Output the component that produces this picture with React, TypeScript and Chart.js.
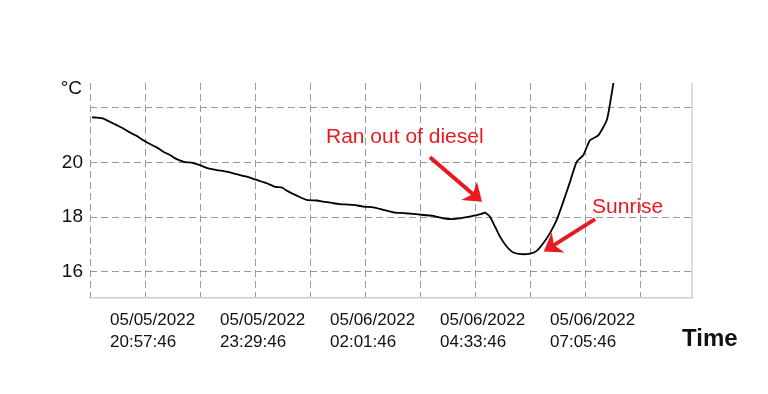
import React, { useEffect, useRef } from "react";
import { Chart, registerables } from "chart.js";

Chart.register(...registerables);

// x values: minutes since 05/05/2022 19:41:46
const minutes = [2.8, 6.9, 18.4, 27.6, 36.9, 46.0, 55.3, 64.5, 73.7, 82.9, 92.2, 101.3, 110.5, 119.8, 131.3, 140.5, 152, 163.5, 175.1, 188.9, 202.7, 216.5, 230.3, 244.2, 255.6, 264.9, 271.8, 285.6, 299.4, 313.3, 322.4, 336.2, 345.5, 363.8, 377.6, 391.5, 405.3, 419.1, 432.9, 446.7, 460.6, 474.4, 488.2, 502.0, 511.3, 520.5, 534.3, 541.0, 545.8, 552.7, 559.6, 566.5, 575.8, 584.9, 596.5, 608.0, 617.2, 626.3, 635.6, 644.9, 654.0, 663.3, 672.5, 681.7, 690.9, 702.4, 714.0, 718.6, 723.1, 725.4];
const temps = [21.65, 21.64, 21.60, 21.48, 21.36, 21.24, 21.09, 20.97, 20.81, 20.67, 20.55, 20.39, 20.27, 20.12, 20.01, 19.99, 19.90, 19.78, 19.72, 19.66, 19.57, 19.48, 19.36, 19.24, 19.11, 19.09, 18.97, 18.79, 18.63, 18.61, 18.57, 18.51, 18.48, 18.45, 18.39, 18.36, 18.27, 18.18, 18.15, 18.12, 18.08, 18.05, 17.96, 17.93, 17.96, 18.00, 18.08, 18.12, 18.17, 18.02, 17.66, 17.29, 16.93, 16.71, 16.65, 16.67, 16.77, 17.05, 17.42, 17.90, 18.57, 19.29, 20.02, 20.27, 20.81, 20.99, 21.54, 22.15, 22.87, 23.2];

const xTickValues = [0, 76, 152, 228, 304, 380, 456, 532, 608, 684, 760];
const xTickLabels: (string | string[])[] = [
  "",
  ["05/05/2022", "20:57:46"],
  "",
  ["05/05/2022", "23:29:46"],
  "",
  ["05/06/2022", "02:01:46"],
  "",
  ["05/06/2022", "04:33:46"],
  "",
  ["05/06/2022", "07:05:46"],
  "",
];
const yTickValues = [16, 18, 20, 22];
const yTickLabels = ["16", "18", "20", ""];

const xMin = 0;
const xMax = 831.85;
const yMin = 15.05;
const yMax = 22.9;

const yUnit = "°C";
const xTitle = "Time";

// annotations in data coordinates (minutes, °C)
const annotationTexts = ["Ran out of diesel", "Sunrise"];
const annotationTextAt = [[326.1, 20.92], [693.7, 18.36]];
const arrowTails = [[469.8, 20.19], [697.9, 17.93]];
const arrowTips = [[541.7, 18.56], [627.0, 16.75]];

const RED = "#e8191f";
const FONT = "'Liberation Sans', Arial, sans-serif";

const overlayPlugin = {
  id: "overlay",
  afterDraw(chart: any) {
    const { ctx, chartArea, scales } = chart;
    const xs = scales.x;
    const ys = scales.y;
    ctx.save();
    // right border
    ctx.strokeStyle = "#d0d0d0";
    ctx.lineWidth = 1.5;
    ctx.beginPath();
    ctx.moveTo(chartArea.right, chartArea.top);
    ctx.lineTo(chartArea.right, chartArea.bottom);
    ctx.stroke();

    // unit label
    ctx.fillStyle = "#111";
    ctx.font = `19px ${FONT}`;
    ctx.textAlign = "right";
    ctx.textBaseline = "middle";
    ctx.fillText(yUnit, chartArea.left - 8, chartArea.top + 6);

    // x title
    ctx.font = `bold 24px ${FONT}`;
    ctx.textAlign = "left";
    ctx.textBaseline = "alphabetic";
    ctx.fillText(xTitle, chartArea.right - 10, chartArea.bottom + 48);

    // annotations
    ctx.fillStyle = RED;
    ctx.strokeStyle = RED;
    ctx.font = `21px ${FONT}`;
    ctx.textAlign = "left";
    ctx.textBaseline = "middle";
    annotationTexts.forEach((t, i) => {
      const px = xs.getPixelForValue(annotationTextAt[i][0]);
      const py = ys.getPixelForValue(annotationTextAt[i][1]);
      ctx.fillText(t, px, py);
    });
    arrowTails.forEach((tail, i) => {
      const x1 = xs.getPixelForValue(tail[0]);
      const y1 = ys.getPixelForValue(tail[1]);
      const x2 = xs.getPixelForValue(arrowTips[i][0]);
      const y2 = ys.getPixelForValue(arrowTips[i][1]);
      const ang = Math.atan2(y2 - y1, x2 - x1);
      const c = Math.cos(ang);
      const s = Math.sin(ang);
      const headLen = 17;
      const headHalf = 12;
      const bx = x2 - headLen * c;
      const by = y2 - headLen * s;
      ctx.lineWidth = 4;
      ctx.lineCap = "butt";
      ctx.beginPath();
      ctx.moveTo(x1, y1);
      ctx.lineTo(bx + 6 * c, by + 6 * s);
      ctx.stroke();
      ctx.beginPath();
      ctx.moveTo(x2, y2);
      ctx.lineTo(bx + headHalf * s, by - headHalf * c);
      ctx.lineTo(bx + 5 * c, by + 5 * s);
      ctx.lineTo(bx - headHalf * s, by + headHalf * c);
      ctx.closePath();
      ctx.fill();
    });
    ctx.restore();
  },
};

export default function App() {
  const ref = useRef<HTMLCanvasElement | null>(null);
  useEffect(() => {
    if (!ref.current) return;
    const chart = new Chart(ref.current, {
      type: "line",
      data: {
        datasets: [
          {
            data: minutes.map((m, i) => ({ x: m, y: temps[i] })),
            borderColor: "#000",
            borderWidth: 1.8,
            pointRadius: 0,
            tension: 0.2,
            fill: false,
          },
        ],
      },
      options: {
        animation: false,
        responsive: false,
        layout: { padding: { top: 83, right: 76, bottom: 0, left: 0 } },
        plugins: { legend: { display: false }, tooltip: { enabled: false } },
        scales: {
          x: {
            type: "linear",
            min: xMin,
            max: xMax,
            afterBuildTicks: (s: any) => {
              s.ticks = xTickValues.map((v) => ({ value: v }));
            },
            afterFit: (s: any) => {
              s.height = 96;
            },
            grid: { color: "#9a9a9a", lineWidth: 1, drawTicks: false },
            border: { display: true, color: "#cfcfcf", width: 1.5, dash: [7, 4] },
            ticks: {
              autoSkip: false,
              maxRotation: 0,
              align: "start",
              labelOffset: -35,
              padding: 12,
              color: "#111",
              font: { family: FONT, size: 17, lineHeight: 1.27 },
              callback: (_v: any, i: number) => xTickLabels[i],
            },
          },
          y: {
            type: "linear",
            min: yMin,
            max: yMax,
            afterBuildTicks: (s: any) => {
              s.ticks = yTickValues.map((v) => ({ value: v }));
            },
            afterFit: (s: any) => {
              s.width = 90;
            },
            grid: { color: "#9a9a9a", lineWidth: 1, drawTicks: false },
            border: { display: false, dash: [7, 4] },
            ticks: {
              padding: 7,
              color: "#111",
              font: { family: FONT, size: 19 },
              callback: (_v: any, i: number) => yTickLabels[i],
            },
          },
        },
      },
      plugins: [overlayPlugin],
    } as any);
    return () => chart.destroy();
  }, []);
  return (
    <div style={{ position: "absolute", left: 0, top: 0, width: 768, height: 394, background: "#fff" }}>
      <canvas ref={ref} width={768} height={394} style={{ display: "block" }} />
    </div>
  );
}
